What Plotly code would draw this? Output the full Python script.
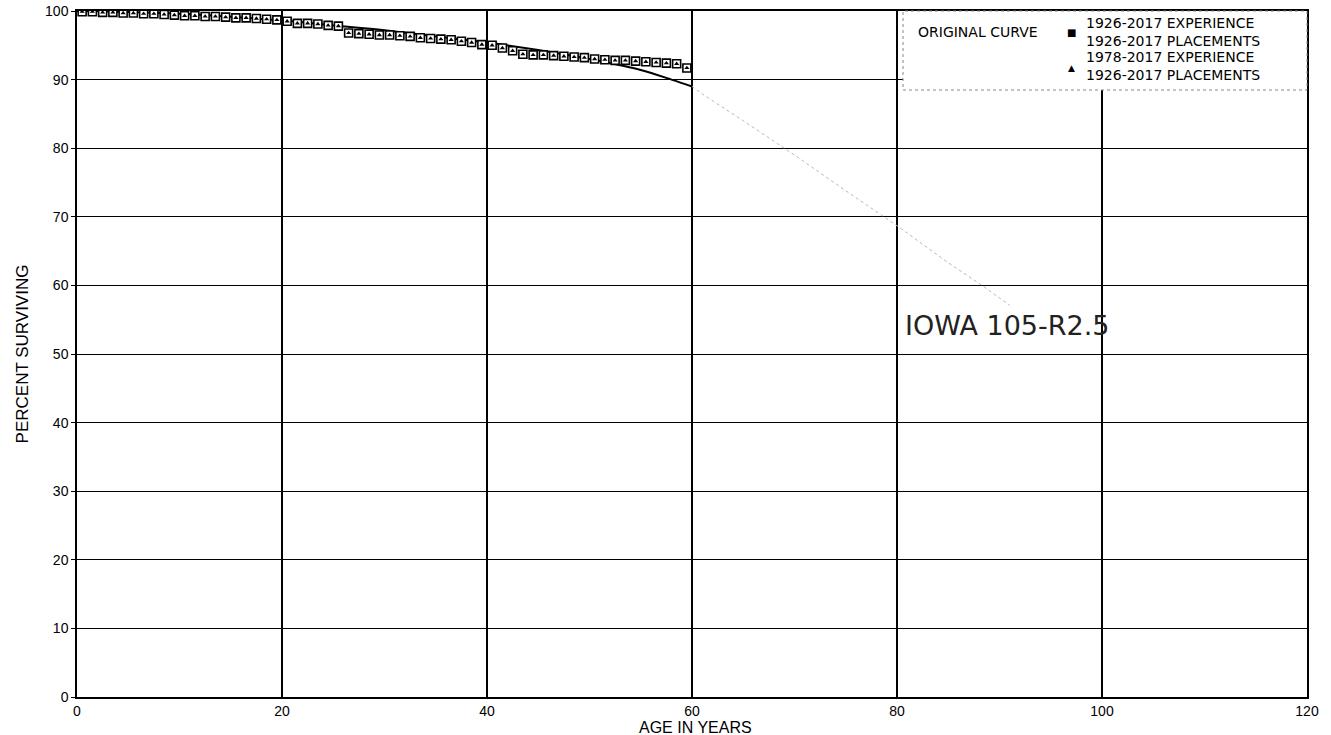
import plotly.graph_objects as go

# Observed survivorship, 1926-2017 experience band (age at interval midpoint)
ages_obs = [a + 0.5 for a in range(60)]
surv_1926 = [
    99.9, 99.9, 99.8, 99.8, 99.7, 99.7, 99.6, 99.6, 99.5, 99.4,
    99.3, 99.3, 99.2, 99.2, 99.1, 99.0, 99.0, 98.9, 98.8, 98.7,
    98.5, 98.2, 98.2, 98.1, 97.9, 97.8, 96.8, 96.7, 96.6, 96.5,
    96.5, 96.4, 96.3, 96.1, 96.0, 95.9, 95.8, 95.6, 95.4, 95.1,
    95.0, 94.6, 94.2, 93.7, 93.6, 93.6, 93.5, 93.4, 93.3, 93.2,
    93.0, 92.9, 92.8, 92.8, 92.7, 92.6, 92.5, 92.4, 92.3, 91.7,
]
# Observed survivorship, 1978-2017 experience band
surv_1978 = [
    99.9, 99.9, 99.8, 99.8, 99.7, 99.7, 99.6, 99.6, 99.5, 99.4,
    99.3, 99.3, 99.2, 99.2, 99.1, 99.0, 99.0, 98.9, 98.8, 98.7,
    98.5, 98.2, 98.2, 98.1, 97.9, 97.8, 96.8, 96.7, 96.6, 96.5,
    96.5, 96.4, 96.3, 96.1, 96.0, 95.9, 95.8, 95.6, 95.4, 95.1,
    95.0, 94.6, 94.2, 93.7, 93.6, 93.6, 93.5, 93.4, 93.3, 93.2,
    93.0, 92.9, 92.8, 92.8, 92.7, 92.6, 92.5, 92.4, 92.3, 91.7,
]

# Iowa 105-R2.5 curve: fitted span (solid) and extrapolated tail (dotted)
iowa_age_fit = [0, 10, 20, 25, 30, 35, 40, 45, 50, 53, 55, 58, 60]
iowa_surv_fit = [100.0, 99.6, 98.6, 97.9, 97.2, 96.3, 95.4, 94.3, 93.0, 92.1, 91.4, 90.0, 89.0]
iowa_age_tail = [60, 61, 65, 70, 75, 78, 80, 85, 88, 91]
iowa_surv_tail = [89.0, 87.9, 84.0, 79.0, 73.8, 70.8, 68.7, 63.3, 60.3, 57.1]

x_ticks = [0, 20, 40, 60, 80, 100, 120]
y_ticks = [0, 10, 20, 30, 40, 50, 60, 70, 80, 90, 100]

fig = go.Figure()

fig.add_trace(go.Scatter(
    x=iowa_age_fit, y=iowa_surv_fit, mode="lines", line_shape="spline",
    line=dict(color="black", width=2), hoverinfo="skip", showlegend=False,
))
fig.add_trace(go.Scatter(
    x=iowa_age_tail, y=iowa_surv_tail, mode="lines",
    line=dict(color="#b8b8b8", width=1, dash="dot"), hoverinfo="skip", showlegend=False,
))
fig.add_trace(go.Scatter(
    x=ages_obs, y=surv_1926, mode="markers",
    marker=dict(symbol="square", size=8, color="white", line=dict(color="black", width=1.6)),
    name="1926-2017 EXPERIENCE", showlegend=False,
))
fig.add_trace(go.Scatter(
    x=ages_obs, y=surv_1978, mode="markers",
    marker=dict(symbol="triangle-up", size=4.5, color="black", line=dict(width=0)),
    name="1978-2017 EXPERIENCE", showlegend=False,
))

leg_font = dict(family="DejaVu Sans", size=14, color="black")


def py(pixel_y):
    # paper y for a pixel row relative to the plot area (top 11, bottom 697)
    return (697 - pixel_y) / 686


def px(pixel_x):
    # paper x for a pixel column relative to the plot area (left 77, right 1307)
    return (pixel_x - 77) / 1230


# Legend box drawn over the grid
fig.add_shape(type="rect", xref="paper", yref="paper",
              x0=px(903), x1=1.0, y0=py(90), y1=1.0, layer="above",
              fillcolor="white", line=dict(color="#888888", width=1, dash="dot"))
fig.add_annotation(xref="paper", yref="paper", x=px(916), y=py(32), xanchor="left", yanchor="middle",
                   text="ORIGINAL CURVE", showarrow=False, font=leg_font)
fig.add_annotation(xref="paper", yref="paper", x=px(1071), y=py(32), xanchor="center", yanchor="middle",
                   text="■", showarrow=False, font=dict(family="DejaVu Sans", size=10, color="black"))
fig.add_annotation(xref="paper", yref="paper", x=px(1071), y=py(68), xanchor="center", yanchor="middle",
                   text="▲", showarrow=False, font=dict(family="DejaVu Sans", size=9, color="black"))
legend_entries = [
    ("1926-2017 EXPERIENCE<br>1926-2017 PLACEMENTS", 32.5),
    ("1978-2017 EXPERIENCE<br>1926-2017 PLACEMENTS", 65.5),
]
for txt, row in legend_entries:
    fig.add_annotation(xref="paper", yref="paper", x=px(1084), y=py(row), xanchor="left",
                       yanchor="middle", align="left", text=txt, showarrow=False, font=leg_font)

fig.add_annotation(x=80.6, y=54.1, xanchor="left", yanchor="middle", text="IOWA 105-R2.5",
                   showarrow=False, font=dict(family="DejaVu Sans", size=27, color="#222222"))

tick_font = dict(family="Liberation Sans, Arial", size=14, color="black")
title_font = dict(family="Liberation Sans, Arial", size=16, color="black")

# x-axis title placed just under the tick labels
fig.add_annotation(xref="paper", yref="paper", x=px(695), y=py(727), xanchor="center",
                   yanchor="middle", text="AGE IN YEARS", showarrow=False, font=title_font)

fig.update_xaxes(
    range=[0, 120], tickvals=x_ticks, ticktext=[str(v) for v in x_ticks],
    showgrid=True, gridcolor="black", gridwidth=2.2,
    showline=True, linecolor="black", linewidth=1.5, mirror=True,
    zeroline=False, ticks="", tickfont=tick_font,
)
fig.update_yaxes(
    range=[0, 100], tickvals=y_ticks, ticktext=[str(v) for v in y_ticks],
    showgrid=True, gridcolor="black", gridwidth=1.4,
    showline=True, linecolor="black", linewidth=1.5, mirror=True,
    zeroline=False, ticks="outside", ticklen=4, tickcolor="black", tickfont=tick_font,
    title=dict(text="PERCENT SURVIVING", font=dict(family="Liberation Sans, Arial", size=17,
                                                   color="black"), standoff=12),
)

fig.update_layout(
    width=1331, height=735,
    margin=dict(l=77, r=24, t=11, b=38, autoexpand=False),
    paper_bgcolor="white", plot_bgcolor="white",
    showlegend=False,
)

fig.write_html("out.html")
